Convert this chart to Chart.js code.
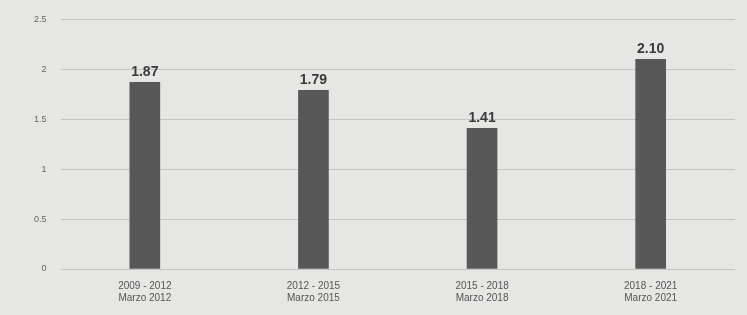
<!DOCTYPE html>
<html>
<head>
<meta charset="utf-8">
<script src="https://cdn.jsdelivr.net/npm/chart.js@4"></script>
<style>
  html, body { margin: 0; padding: 0; background: #e6e6e4; }
  #wrap { width: 747px; height: 315px; position: relative; }
</style>
</head>
<body>
<div id="wrap"><canvas id="chart" width="747" height="315"></canvas></div>
<script>
const periods = [
  ["2009 - 2012", "Marzo 2012"],
  ["2012 - 2015", "Marzo 2015"],
  ["2015 - 2018", "Marzo 2018"],
  ["2018 - 2021", "Marzo 2021"],
];
const values = [1.87, 1.79, 1.41, 2.10];
const valueLabels = ["1.87", "1.79", "1.41", "2.10"];
const yTicks = [0, 0.5, 1, 1.5, 2, 2.5];

// numbers over the bars
const barLabels = {
  id: "barLabels",
  afterDatasetsDraw(chart) {
    const ctx = chart.ctx;
    ctx.save();
    ctx.font = "bold 14px 'Liberation Sans', Arial, sans-serif";
    ctx.fillStyle = "#3a3a3a";
    ctx.textAlign = "center";
    ctx.textBaseline = "bottom";
    chart.getDatasetMeta(0).data.forEach((bar, i) => {
      ctx.fillText(valueLabels[i], bar.x, bar.y - 3);
    });
    ctx.restore();
  },
};

const myChart = new Chart(document.getElementById("chart").getContext("2d"), {
  type: "bar",
  data: {
    labels: periods,
    datasets: [
      {
        data: values,
        backgroundColor: "#585858",
        barThickness: 30,
      },
    ],
  },
  options: {
    responsive: false,
    animation: false,
    layout: { padding: { top: 13, right: 12, left: 20, bottom: 8 } },
    plugins: { legend: { display: false }, tooltip: { enabled: false } },
    scales: {
      x: {
        grid: { display: false },
        border: { display: false },
        ticks: {
          color: "#555",
          font: { size: 10, family: "'Liberation Sans', Arial, sans-serif" },
          maxRotation: 0,
        },
      },
      y: {
        min: 0,
        max: 2.5,
        afterBuildTicks: (axis) => {
          axis.ticks = yTicks.map((v) => ({ value: v }));
        },
        grid: { color: "#c4c4c2", drawTicks: false },
        border: { display: false },
        ticks: {
          color: "#666",
          padding: 14,
          callback: (v) => String(v),
          font: { size: 9, family: "'Liberation Sans', Arial, sans-serif" },
        },
      },
    },
  },
  plugins: [barLabels],
});
</script>
</body>
</html>
